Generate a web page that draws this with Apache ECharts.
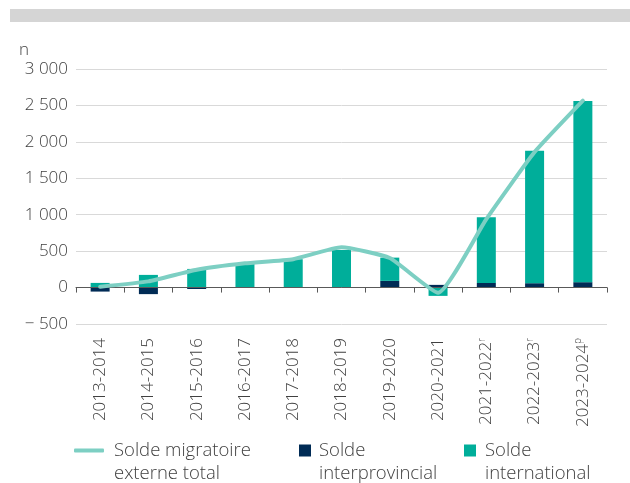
<!DOCTYPE html>
<html><head><meta charset="utf-8">
<script src="https://cdn.jsdelivr.net/npm/echarts@6/dist/echarts.min.js"></script>
<style>html,body{margin:0;padding:0;background:#fff}#c{width:630px;height:483px}</style>
</head><body><div id="c"></div>
<script>
const categories = ['2013-2014','2014-2015','2015-2016','2016-2017','2017-2018','2018-2019','2019-2020','2020-2021','2021-2022','2022-2023','2023-2024'];
const marks = ['','','','','','','','','r','r','p'];
const interprovincial = [-55, -90, -20, -3, 0, 0, 92, 37, 64, 60, 74];
const international = [64, 174, 256, 334, 389, 516, 319, -114, 900, 1817, 2488];
const totalExterne = [12, 85, 245, 333, 390, 552, 405, -72, 940, 1860, 2566];
const yTicks = {min: -500, max: 3000, interval: 500};

const FONT = "'Open Sans', sans-serif";
const FW = 300;
const TXT = '#404040';
const chart = echarts.init(document.getElementById('c'), null, {renderer: 'canvas'});
function fmt(v) {
  const a = Math.abs(v);
  const s = a >= 1000 ? Math.floor(a / 1000) + ' ' + String(a % 1000).padStart(3, '0') : String(a);
  return v < 0 ? '\u2212 ' + s : s;
}
function legendCfg(name, icon, left, w, h, gapPad) {
  return {
    data: [{name: name, icon: icon}], left: left, top: 416, padding: 0, itemWidth: w, itemHeight: h, selectedMode: false,
    formatter: n => ' \n' + n.split('\n').map(s => '{t|' + s + '}').join('\n'),
    textStyle: {color: TXT, fontFamily: FONT, fontWeight: FW, fontSize: 18.5, lineHeight: 23,
      rich: {t: {color: TXT, fontFamily: FONT, fontWeight: FW, fontSize: 18.5, lineHeight: 23, padding: [0, 0, 0, gapPad]}}}
  };
}
chart.setOption({
  animation: false,
  graphic: [{type: 'rect', shape: {x: 10, y: 9, width: 620, height: 13}, style: {fill: '#d5d5d5'}}],
  title: {text: 'n', left: 19, top: 42, padding: 0, textStyle: {color: TXT, fontFamily: FONT, fontSize: 17, fontWeight: FW}},
  grid: {left: 76, right: 23, top: 69, bottom: 159, containLabel: false},
  legend: [
    legendCfg('Solde migratoire\nexterne total', 'roundRect', 74, 30, 4, 5),
    legendCfg('Solde\ninterprovincial', 'rect', 299, 12, 12, 3),
    legendCfg('Solde\ninternational', 'rect', 464, 12, 12, 4)
  ],
  xAxis: [
    {type: 'category', data: categories, axisLine: {onZero: true, lineStyle: {color: '#595959', width: 1}},
     axisTick: {show: true, length: 5, interval: 0, lineStyle: {color: '#595959'}}, axisLabel: {show: false}, z: 5},
    {type: 'category', data: categories, position: 'bottom', axisLine: {show: false, onZero: false}, axisTick: {show: false},
     axisLabel: {interval: 0, rotate: 90, margin: 14, color: TXT, fontFamily: FONT, fontWeight: FW, fontSize: 17,
       formatter: (v, i) => marks[i] ? v + '{s|' + marks[i] + '}' : v,
       rich: {s: {fontSize: 10, fontFamily: FONT, fontWeight: FW, color: TXT, verticalAlign: 'top', padding: [0, 0, 9, 0]}}}}
  ],
  yAxis: {type: 'value', min: yTicks.min, max: yTicks.max, interval: yTicks.interval,
    axisLine: {show: false}, axisTick: {show: false},
    axisLabel: {margin: 8, color: TXT, fontFamily: FONT, fontWeight: FW, fontSize: 17, formatter: fmt},
    splitLine: {lineStyle: {color: '#d9d9d9', width: 1}}},
  series: [
    {name: 'Solde\ninterprovincial', type: 'bar', stack: 's', data: interprovincial, barWidth: 19, itemStyle: {color: '#002b55'}},
    {name: 'Solde\ninternational', type: 'bar', stack: 's', data: international, barWidth: 19, itemStyle: {color: '#00ae9a'}},
    {name: 'Solde migratoire\nexterne total', type: 'line', data: totalExterne, smooth: 0.15, symbol: 'none',
     lineStyle: {color: '#7dcfc3', width: 4, cap: 'round'}, itemStyle: {color: '#7dcfc3'}, z: 10}
  ]
});
</script></body></html>
